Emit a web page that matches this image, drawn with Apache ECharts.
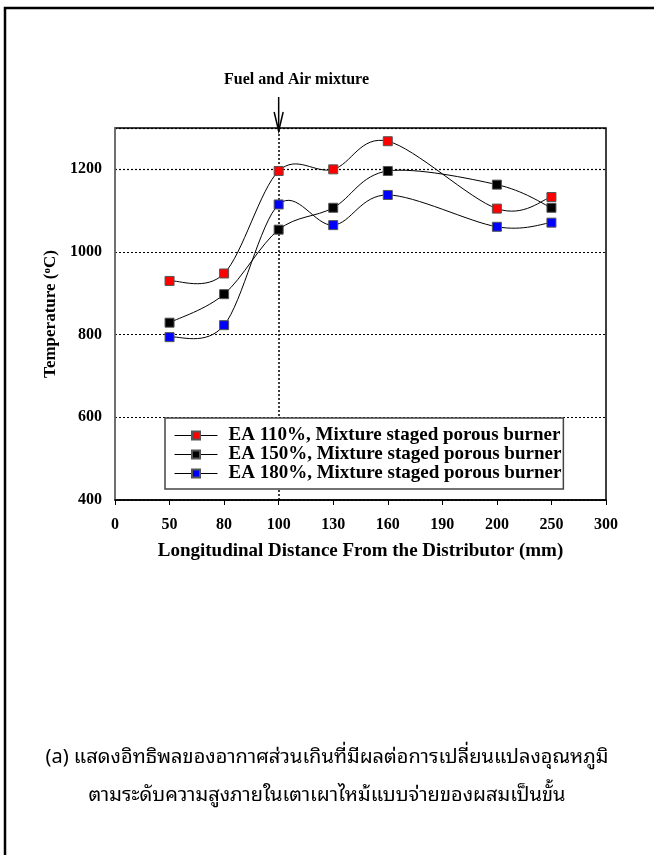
<!DOCTYPE html>
<html>
<head>
<meta charset="utf-8">
<script src="https://cdn.jsdelivr.net/npm/echarts@6/dist/echarts.min.js"></script>
<style>
html,body{margin:0;padding:0;background:#fff;}
#c{width:654px;height:855px;}
</style>
</head>
<body>
<div id="c"></div>
<script>
// Data
var categories = ['0', '50', '80', '100', '130', '160', '190', '200', '250', '300'];
var ea110 = [null, 930, 948, 1196, 1200, 1268, null, 1105, 1133, null];
var ea150 = [null, 829, 898, 1054, 1107, 1196, null, 1163, 1107, null];
var ea180 = [null, 794, 823, 1115, 1065, 1138, null, 1061, 1071, null];
var seriesNames = [
  'EA 110%, Mixture staged porous burner',
  'EA 150%, Mixture staged porous burner',
  'EA 180%, Mixture staged porous burner'
];
var markerColors = ['#ff0000', '#000000', '#0000ff'];
var yTicks = { min: 400, max: 1300, interval: 200 };
var annotation = 'Fuel and Air mixture';
var annotationCategory = '100';
var captionLines = [
  '(a) แสดงอิทธิพลของอากาศส่วนเกินที่มีผลต่อการเปลี่ยนแปลงอุณหภูมิ',
  'ตามระดับความสูงภายในเตาเผาไหม้แบบจ่ายของผสมเป็นขั้น'
];

var serif = '"Liberation Serif", "Times New Roman", serif';
var thai = '"Noto Sans Thai Looped", "Noto Sans Thai", "Tahoma", "DejaVu Sans", sans-serif';
var chart = echarts.init(document.getElementById('c'), null, { renderer: 'canvas' });

var allSeries = [ea110, ea150, ea180];

// indices of defined points for a series
function definedIdx(arr) {
  var r = [];
  for (var i = 0; i < arr.length; i++) if (arr[i] != null) r.push(i);
  return r;
}

// Smooth (Catmull-Rom style) curve through the points, drawn via the axes' coordinate system
function curveSeries(k) {
  var arr = allSeries[k];
  var idx = definedIdx(arr);
  var segs = [];
  for (var s = 0; s < idx.length - 1; s++) segs.push([s]);
  return {
    type: 'custom',
    name: seriesNames[k] + ' curve',
    data: segs,
    silent: true,
    z: 2,
    renderItem: function (params, api) {
      var s = api.value(0);
      var pts = idx.map(function (ci) { return api.coord([ci, arr[ci]]); });
      var p1 = pts[s], p2 = pts[s + 1];
      var p0 = s > 0 ? pts[s - 1] : p1;
      var p3 = s + 2 < pts.length ? pts[s + 2] : p2;
      var t = 1 / 6;
      var c1 = [p1[0] + (p2[0] - p0[0]) * t, p1[1] + (p2[1] - p0[1]) * t];
      var c2 = [p2[0] - (p3[0] - p1[0]) * t, p2[1] - (p3[1] - p1[1]) * t];
      return {
        type: 'bezierCurve',
        shape: { x1: p1[0], y1: p1[1], x2: p2[0], y2: p2[1], cpx1: c1[0], cpy1: c1[1], cpx2: c2[0], cpy2: c2[1] },
        style: { stroke: '#000', lineWidth: 1, fill: null }
      };
    }
  };
}

function markerSeries(k, withMark) {
  var s = {
    name: seriesNames[k],
    type: 'line',
    data: allSeries[k],
    symbol: 'rect',
    symbolSize: 9,
    showAllSymbol: true,
    connectNulls: true,
    lineStyle: { color: '#000', width: 1, opacity: 0 },
    itemStyle: { color: markerColors[k], borderColor: '#555', borderWidth: 1 },
    emphasis: { disabled: true },
    z: 3
  };
  if (withMark) {
    s.markLine = {
      silent: true,
      symbol: 'none',
      label: { show: false },
      lineStyle: { color: '#000', type: [2, 2], width: 1.5, opacity: 1 },
      data: [{ xAxis: annotationCategory }],
      z: 1
    };
  }
  return s;
}

chart.setOption({
  animation: false,
  backgroundColor: '#fff',
  grid: { left: 115, top: 128, right: 48, bottom: 355, show: true, borderColor: '#000', borderWidth: 1.5, backgroundColor: 'transparent' },
  legend: {
    orient: 'vertical',
    left: 165,
    top: 418,
    padding: [8, 2, 6, 9],
    backgroundColor: '#fff',
    borderColor: '#444',
    borderWidth: 1.5,
    itemWidth: 43,
    itemHeight: 10,
    itemGap: 0,
    lineStyle: { color: '#000', width: 1, opacity: 1 },
    textStyle: { fontFamily: serif, fontWeight: 'bold', fontSize: 19, lineHeight: 18, color: '#000', padding: [0, 0, 0, 6] },
    data: seriesNames,
    z: 10
  },
  xAxis: {
    type: 'category',
    data: categories,
    boundaryGap: false,
    name: 'Longitudinal Distance From the Distributor (mm)',
    nameLocation: 'middle',
    nameGap: 42,
    nameTextStyle: { fontFamily: serif, fontWeight: 'bold', fontSize: 19, color: '#000' },
    axisLine: { lineStyle: { color: '#000', width: 1.5 } },
    axisTick: { show: true, inside: false, length: 5, alignWithLabel: true, lineStyle: { color: '#000' } },
    axisLabel: { fontFamily: serif, fontWeight: 'bold', fontSize: 16, color: '#000', margin: 17, interval: 0 },
    splitLine: { show: false }
  },
  yAxis: {
    type: 'value',
    min: yTicks.min,
    max: yTicks.max,
    interval: yTicks.interval,
    name: 'Temperature ({sup|o}C)',
    nameLocation: 'middle',
    nameGap: 42,
    nameTextStyle: {
      fontFamily: serif, fontWeight: 'bold', fontSize: 17, color: '#000',
      rich: { sup: { fontFamily: serif, fontWeight: 'bold', fontSize: 11, verticalAlign: 'top', padding: [0, 0, 7, 0], color: '#000' } }
    },
    axisLine: { show: true, lineStyle: { color: '#808080', width: 1.5 } },
    axisTick: { show: false },
    axisLabel: {
      fontFamily: serif, fontWeight: 'bold', fontSize: 16, color: '#000', margin: 13, showMaxLabel: false,
      formatter: function (v) { return String(v); }
    },
    splitLine: { show: true, lineStyle: { color: '#000', type: [2, 2], width: 1.2 } }
  },
  series: [
    curveSeries(0), curveSeries(1), curveSeries(2),
    markerSeries(0, true), markerSeries(1, false), markerSeries(2, false)
  ]
});

// Annotation arrow and caption, positioned from the axis
var ax = chart.convertToPixel({ xAxisIndex: 0 }, annotationCategory);
var plotTop = 128;
chart.setOption({
  graphic: [
    { type: 'rect', shape: { x: 5, y: 8, width: 700, height: 900 }, style: { fill: 'none', stroke: '#000', lineWidth: 2.5 }, silent: true, z: 0 },
    { type: 'text', left: 224, top: 72, style: { text: annotation, font: 'bold 16px ' + serif, fill: '#000' }, z: 20 },
    { type: 'line', shape: { x1: ax, y1: 97, x2: ax, y2: plotTop + 3 }, style: { stroke: '#000', lineWidth: 1.5 }, z: 20 },
    { type: 'polyline', shape: { points: [[ax - 4.5, 112], [ax, plotTop + 3], [ax + 4.5, 112]] }, style: { stroke: '#000', fill: 'none', lineWidth: 1.5 }, z: 20 },
    { type: 'text', x: 327, y: 757, style: { text: captionLines[0], font: '20px ' + thai, fill: '#000', align: 'center', verticalAlign: 'middle' }, z: 20 },
    { type: 'text', x: 327, y: 795, style: { text: captionLines[1], font: '20px ' + thai, fill: '#000', align: 'center', verticalAlign: 'middle' }, z: 20 }
  ]
});
</script>
</body>
</html>
